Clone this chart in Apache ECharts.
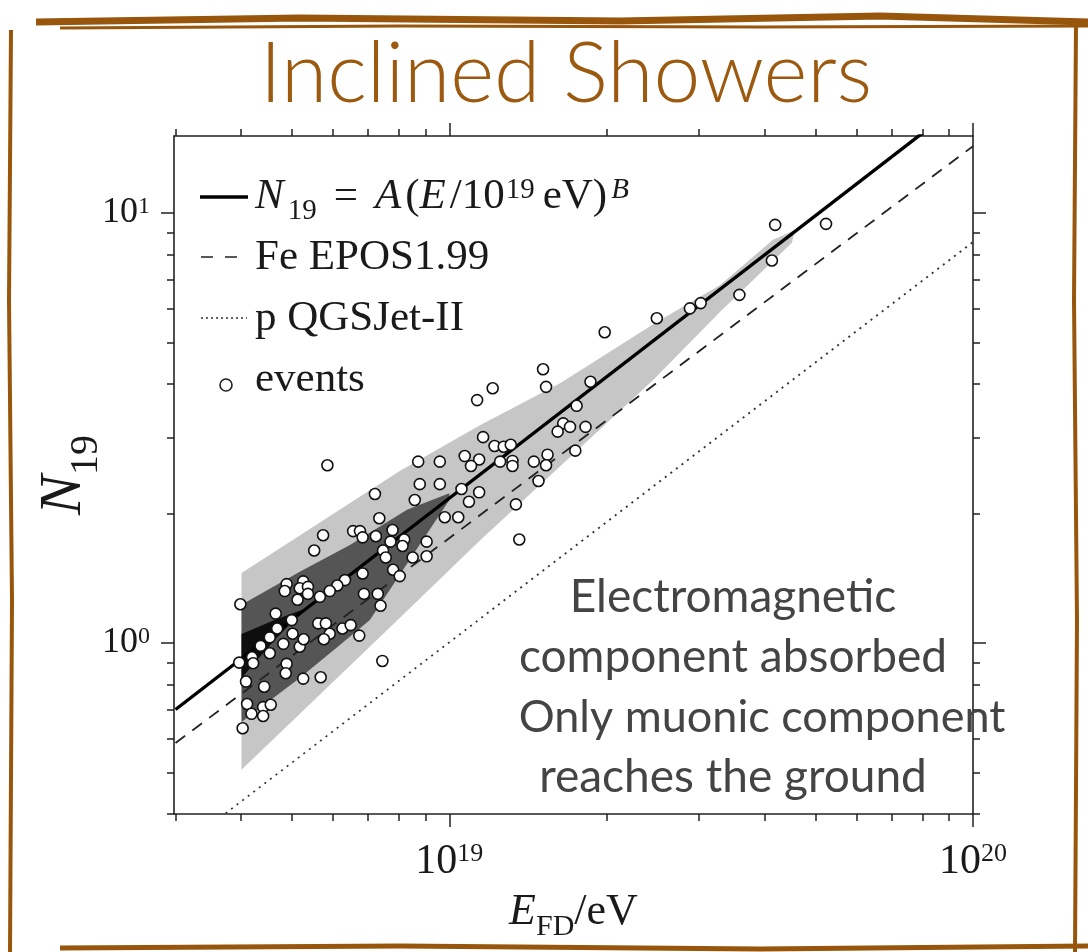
<!DOCTYPE html>
<html><head><meta charset="utf-8">
<script src="https://cdn.jsdelivr.net/npm/echarts@6/dist/echarts.min.js"></script>
<style>html,body{margin:0;padding:0;background:#fff}#c{width:1088px;height:952px}</style>
</head><body><div id="c"></div>
<script>
// ---------------- data ----------------
// events: energy E_FD [eV] and N19
const eventsE = [4.19e19,5.24e19,4.13e19,3.58e19,3.02e19,2.88e19,2.49e19,1.98e19,1.51e19,1.21e19,
  1.13e19,1.07e19,1.14e19,1.10e19,9.59e18,9.59e18,1.055e19,1.14e19,1.09e19,9.80e18,
  1.04e19,1.53e19,1.86e19,1.75e19,1.65e19,1.70e19,1.61e19,1.82e19,1.16e19,1.22e19,
  1.27e19,1.31e19,1.25e19,1.32e19,1.32e19,1.45e19,1.54e19,1.53e19,1.74e19,1.48e19,
  1.34e19,1.36e19,5.85e18,8.72e18,8.78e18,7.21e18,8.59e18,7.35e18,5.74e18,6.55e18,
  6.75e18,6.83e18,7.24e18,7.79e18,7.72e18,8.20e18,8.14e18,9.05e18,5.52e18,7.47e18,
  7.56e18,8.51e18,9.05e18,7.81e18,8.04e18,6.83e18,6.32e18,6.11e18,5.91e18,5.66e18,
  5.26e18,4.89e18,4.85e18,5.18e18,5.37e18,5.37e18,5.13e18,6.87e18,7.30e18,7.39e18,
  3.99e18,4.66e18,5.00e18,5.62e18,5.81e18,4.69e18,6.25e18,6.48e18,6.73e18,5.91e18,
  5.76e18,5.02e18,4.54e18,4.36e18,4.54e18,4.82e18,5.18e18,5.27e18,4.20e18,4.22e18,
  3.97e18,4.89e18,4.87e18,4.09e18,7.45e18,5.26e18,5.68e18,4.43e18,4.11e18,4.19e18,
  4.41e18,4.56e18,4.41e18,4.03e18];
const eventsN = [9.38,9.43,7.75,6.45,6.17,6.00,5.69,5.28,4.33,3.91,
  3.67,2.72,2.67,2.58,2.64,2.34,2.28,2.24,2.13,1.96,
  1.96,3.94,4.05,3.56,3.24,3.18,3.10,3.18,3.01,2.87,
  2.86,2.89,2.64,2.65,2.58,2.64,2.74,2.59,2.80,2.38,
  2.10,1.74,2.59,2.64,2.34,2.22,2.15,1.95,1.78,1.82,
  1.82,1.76,1.77,1.83,1.72,1.74,1.68,1.72,1.64,1.64,
  1.58,1.58,1.59,1.48,1.43,1.45,1.40,1.36,1.32,1.28,
  1.39,1.37,1.32,1.34,1.35,1.30,1.26,1.30,1.30,1.22,
  1.23,1.17,1.13,1.11,1.11,1.08,1.08,1.10,1.04,1.05,
  1.02,1.05,1.03,0.984,0.946,0.995,0.980,1.02,0.926,0.897,
  0.900,0.894,0.850,0.813,0.908,0.826,0.832,0.791,0.721,0.684,
  0.709,0.718,0.676,0.633];

// fitted power law N19 = A (E/1e19 eV)^B, end points
const fitE = [3e18, 1e20];
const fitN = [0.70, 18.9];
// Fe EPOS1.99
const feE = [3e18, 1e20];
const feN = [0.585, 14.3];
// p QGSJet-II
const pE = [3e18, 1e20];
const pN = [0.327, 8.56];

// outer (light) band
const outerE = [4.01e18,8.04e18,1.144e19,1.63e19,2.49e19,3.29e19,4.15e19,4.57e19,4.51e19,3.29e19,2.45e19,1.63e19,1.144e19,8.04e18,4.01e18];
const outerN = [1.455,2.51,3.21,4.02,5.58,6.80,8.66,9.13,8.52,5.89,4.09,2.58,1.73,1.143,0.507];
// middle (dark) band
const darkE = [4.01e18,5.18e18,6.46e18,8.30e18,1.0e19,1.0e19,8.40e18,7.05e18,6.18e18,5.18e18,4.01e18];
const darkN = [1.226,1.463,1.69,2.04,2.23,2.15,1.56,1.131,0.989,0.829,0.655];
// core (black) band
const coreE = [4.01e18,4.64e18,5.30e18,4.64e18,4.01e18];
const coreN = [1.049,1.131,1.20,1.016,0.829];

// axis ticks
const xRange = [2.98e18, 1e20];
const yRange = [0.40, 15.1];
const xMajor = [1e19, 1e20];
const xMinor = [3e18,4e18,5e18,6e18,7e18,8e18,9e18,2e19,3e19,4e19,5e19,6e19,7e19,8e19,9e19];
const yMajor = [1, 10];
const yMinor = [0.4,0.5,0.6,0.7,0.8,0.9,2,3,4,5,6,7,8,9];

// ---------------- chart ----------------
const L = v => Math.log10(v);
const pairs = (E, N) => E.map((e, i) => [L(e), L(N[i])]);
const SERIF = '"Liberation Serif", "DejaVu Serif", serif';
const SANS = 'Lato, "Open Sans", sans-serif';
const INK = '#1a1a1a';

function band(E, N, color, z) {
  const verts = pairs(E, N);
  return {
    type: 'custom', xAxisIndex: 0, yAxisIndex: 0, z: z, silent: true, clip: true,
    data: [verts[0]],
    renderItem: (params, api) => ({
      type: 'polygon',
      shape: { points: verts.map(p => api.coord(p)) },
      style: { fill: color }
    })
  };
}

function expLabel(fs, sfs, margin) {
  return {
    margin: margin,
    formatter: v => '{b|10}{s|' + Math.round(v) + '}',
    rich: {
      b: { fontFamily: SERIF, fontSize: fs, color: INK, lineHeight: fs },
      s: { fontFamily: SERIF, fontSize: sfs, color: INK, verticalAlign: 'top', lineHeight: sfs }
    }
  };
}

function mkAxis(kind, pos, major, showLine, label, name) {
  const isX = kind === 'x';
  const rng = isX ? xRange : yRange;
  const o = {
    type: 'value', position: pos, gridIndex: 0,
    min: L(rng[0]), max: L(rng[1]),
    splitLine: { show: false },
    axisLine: { show: showLine, onZero: false, lineStyle: { color: '#222', width: 1.6 } },
    axisTick: { show: true, inside: false, length: major ? 13 : 7,
      customValues: (isX ? (major ? xMajor : xMinor) : (major ? yMajor : yMinor)).map(L),
      lineStyle: { color: '#222', width: 1.5 } },
    axisLabel: label ? Object.assign({ customValues: (isX ? xMajor : yMajor).map(L) }, label) : { show: false }
  };
  if (name) Object.assign(o, name);
  return o;
}

const option = {
  animation: false,
  backgroundColor: '#fff',
  grid: { left: 174, right: 115, top: 136, bottom: 138, containLabel: false },
  xAxis: [
    mkAxis('x', 'bottom', true, true, expLabel(42, 26, 27), {
      name: '{i|E}{sub|FD}{n|/eV}', nameLocation: 'middle', nameGap: 76, nameMoveOverlap: false,
      nameTextStyle: { rich: {
        i: { fontFamily: SERIF, fontStyle: 'italic', fontSize: 44, color: INK },
        sub: { fontFamily: SERIF, fontSize: 30, color: INK, verticalAlign: 'bottom', padding: [0, 0, -8, 0] },
        n: { fontFamily: SERIF, fontSize: 44, color: INK }
      } }
    }),
    mkAxis('x', 'bottom', false, false, null),
    mkAxis('x', 'top', true, true, null),
    mkAxis('x', 'top', false, false, null)
  ],
  yAxis: [
    mkAxis('y', 'left', true, true, expLabel(36, 24, 24), {
      name: '{i|N}{sub|19}', nameLocation: 'middle', nameGap: 80, nameRotate: 90, nameMoveOverlap: false,
      nameTextStyle: { rich: {
        i: { fontFamily: SERIF, fontStyle: 'italic', fontSize: 60, color: INK },
        sub: { fontFamily: SERIF, fontSize: 40, color: INK, verticalAlign: 'bottom', padding: [0, 0, -12, 0] }
      } }
    }),
    mkAxis('y', 'left', false, false, null),
    mkAxis('y', 'right', true, true, null),
    mkAxis('y', 'right', false, false, null)
  ],
  series: [
    band(outerE, outerN, '#c6c6c6', 1),
    band(darkE, darkN, '#555555', 2),
    band(coreE, coreN, '#0e0e0e', 3),
    { type: 'line', name: 'p QGSJet-II', data: pairs(pE, pN), showSymbol: false, symbol: 'none', z: 4,
      lineStyle: { color: '#333', width: 1.8, type: [2, 5] } },
    { type: 'line', name: 'Fe EPOS1.99', data: pairs(feE, feN), showSymbol: false, symbol: 'none', z: 4,
      lineStyle: { color: '#222', width: 1.8, type: [12, 9] } },
    { type: 'line', name: 'fit', data: pairs(fitE, fitN), showSymbol: false, symbol: 'none', z: 5,
      lineStyle: { color: '#000', width: 3.4 } },
    { type: 'scatter', name: 'events', data: pairs(eventsE, eventsN), symbol: 'circle', symbolSize: 11, z: 6,
      itemStyle: { color: '#fff', borderColor: '#111', borderWidth: 1.6, opacity: 1 } }
  ],
  graphic: [
    // slide frame (brush strokes)
    { type: 'polyline', shape: { points: [[36,22],[300,18],[620,21],[880,16],[1088,22]] }, style: { stroke: '#97560c', lineWidth: 7, fill: null } },
    { type: 'polyline', shape: { points: [[60,28],[400,26],[760,27],[1088,26]] }, style: { stroke: '#97560c', lineWidth: 3, fill: null } },
    { type: 'polyline', shape: { points: [[11,30],[9,300],[12,600],[10,952]] }, style: { stroke: '#97560c', lineWidth: 4, fill: null } },
    { type: 'polyline', shape: { points: [[1076,24],[1074,300],[1077,620],[1075,952]] }, style: { stroke: '#97560c', lineWidth: 4, fill: null } },
    { type: 'polyline', shape: { points: [[60,948],[400,946],[760,949],[1088,946]] }, style: { stroke: '#97560c', lineWidth: 5, fill: null } },
    // title
    { type: 'text', x: 566, y: 75, style: { text: 'Inclined Showers', fontFamily: SANS, fontWeight: 300, fontSize: 84,
      fill: '#9b5a10', textAlign: 'center', textVerticalAlign: 'middle' } },
    // legend
    { type: 'line', shape: { x1: 200, y1: 197, x2: 248, y2: 197 }, style: { stroke: '#000', lineWidth: 3.4 }, z: 20 },
    { type: 'line', shape: { x1: 201, y1: 257, x2: 247, y2: 257 }, style: { stroke: '#222', lineWidth: 1.6, lineDash: [12, 12] }, z: 20 },
    { type: 'line', shape: { x1: 201, y1: 318, x2: 247, y2: 318 }, style: { stroke: '#333', lineWidth: 1.6, lineDash: [2, 3] }, z: 20 },
    { type: 'circle', shape: { cx: 226, cy: 385, r: 6 }, style: { fill: '#fff', stroke: '#222', lineWidth: 1.6 }, z: 20 },
    { type: 'text', x: 255, y: 197, z: 20, style: {
      text: '{i|N}{sub|19}{eq|=}{i|A}{n|(}{i|E}{n|/10}{sup|19}{n|eV)}{supi|B}',
      textVerticalAlign: 'middle',
      rich: {
        i: { fontFamily: SERIF, fontStyle: 'italic', fontSize: 43, fill: INK, padding: [0, 4, 0, 0] },
        n: { fontFamily: SERIF, fontSize: 43, fill: INK },
        eq: { fontFamily: SERIF, fontSize: 43, fill: INK, padding: [0, 17, 0, 0] },
        sub: { fontFamily: SERIF, fontSize: 29, fill: INK, verticalAlign: 'bottom', padding: [0, 17, -7, 0] },
        sup: { fontFamily: SERIF, fontSize: 29, fill: INK, verticalAlign: 'top', padding: [0, 8, 0, 1] },
        supi: { fontFamily: SERIF, fontStyle: 'italic', fontSize: 29, fill: INK, verticalAlign: 'top', padding: [0, 0, 0, 4] }
      } } },
    { type: 'text', x: 255, y: 258, z: 20, style: { text: 'Fe EPOS1.99', fontFamily: SERIF, fontSize: 43, fill: INK, textVerticalAlign: 'middle' } },
    { type: 'text', x: 255, y: 319, z: 20, style: { text: 'p QGSJet-II', fontFamily: SERIF, fontSize: 43, fill: INK, textVerticalAlign: 'middle' } },
    { type: 'text', x: 255, y: 380, z: 20, style: { text: 'events', fontFamily: SERIF, fontSize: 43, fill: INK, textVerticalAlign: 'middle' } },
    // annotation
    { type: 'text', x: 733, y: 597, z: 20, style: { text: 'Electromagnetic', fontFamily: SANS, fontSize: 46, fill: '#444', textAlign: 'center', textVerticalAlign: 'middle' } },
    { type: 'text', x: 733, y: 657, z: 20, style: { text: 'component absorbed', fontFamily: SANS, fontSize: 46, fill: '#444', textAlign: 'center', textVerticalAlign: 'middle' } },
    { type: 'text', x: 762, y: 717, z: 20, style: { text: 'Only muonic component', fontFamily: SANS, fontSize: 45, fill: '#444', textAlign: 'center', textVerticalAlign: 'middle' } },
    { type: 'text', x: 733, y: 777, z: 20, style: { text: 'reaches the ground', fontFamily: SANS, fontSize: 46, fill: '#444', textAlign: 'center', textVerticalAlign: 'middle' } }
  ]
};

const chart = echarts.init(document.getElementById('c'), null, { renderer: 'canvas', width: 1088, height: 952 });
chart.setOption(option);
</script>
</body></html>
